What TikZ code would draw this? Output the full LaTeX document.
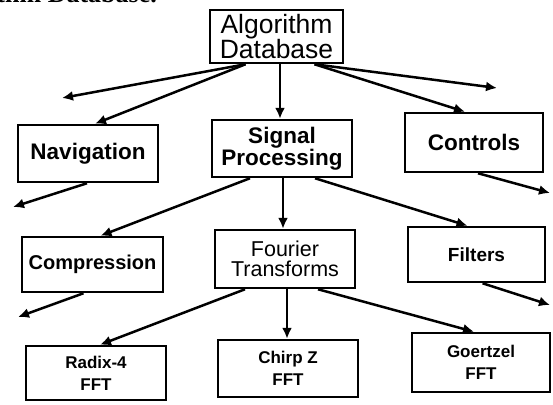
\documentclass[tikz,border=0pt]{standalone}
\usepackage{fontspec}
\setmainfont{Liberation Sans}
\newfontfamily\headserif{Liberation Serif}
\usetikzlibrary{arrows.meta}
\begin{document}
\begin{tikzpicture}[x=1pt,y=-1pt,
  box/.style={draw,line width=2.5pt,inner sep=0pt,align=center},
  conn/.style={line width=2.5pt,-{Latex[length=11pt,width=10pt]}},
  ftop/.style={font=\fontsize{26.5}{25}\selectfont},
  fmid/.style={font=\bfseries\fontsize{22.5}{22}\selectfont},
  freg/.style={font=\fontsize{21.5}{20}\selectfont},
  fsml/.style={font=\bfseries\fontsize{17}{22}\selectfont}]
\useasboundingbox (0,0) rectangle (553,404);

% partly cut header text
\begin{scope}
\clip (0,0) rectangle (553,6);
\node[anchor=base east,inner sep=0pt,font=\headserif\bfseries\fontsize{26}{26}\selectfont] (hdr) at (157,3) {rithm Database.};
\end{scope}

\node[box,ftop,minimum width=133pt,minimum height=53pt] (alg) at (276.5,36.5) {Algorithm\\Database};
\node[box,fmid,minimum width=140pt,minimum height=57pt] (nav) at (88,153.5) {Navigation};
\node[box,fmid,minimum width=140pt,minimum height=57pt] (sig) at (282,148.5) {Signal\\Processing};
\node[box,fmid,minimum width=138pt,minimum height=59pt] (ctl) at (474,142.5) {Controls};
\node[box,fmid,font=\bfseries\fontsize{20}{20}\selectfont,minimum width=141pt,minimum height=55pt] (cmp) at (92.5,264.5) {Compression};
\node[box,freg,minimum width=140pt,minimum height=58pt] (fou) at (285,259) {Fourier\\Transforms};
\node[box,fmid,font=\bfseries\fontsize{19}{20}\selectfont,minimum width=137pt,minimum height=55pt] (fil) at (476.5,254.5) {Filters};
\node[box,fsml,minimum width=140pt,minimum height=54pt] (rad) at (96,373) {Radix-4\\FFT};
\node[box,fsml,minimum width=140pt,minimum height=57pt] (chp) at (288,368.5) {Chirp Z\\FFT};
\node[box,fsml,minimum width=138pt,minimum height=59pt] (goe) at (481,362.5) {Goertzel\\FFT};

% free ends
\coordinate (e1) at (62,98);
\coordinate (e2) at (497,88);
\coordinate (e3) at (13,207);
\coordinate (e4) at (550,193);
\coordinate (e5) at (18,317);
\coordinate (e6) at (550,305);

\draw[conn] ([xshift=-31pt]alg.south) -- (e1);
\draw[conn] ([xshift=-31pt]alg.south) -- ([xshift=7pt]nav.north);
\draw[conn] ([xshift=3.5pt]alg.south) -- ([xshift=-2pt]sig.north);
\draw[conn] ([xshift=38pt]alg.south) -- ([xshift=-9pt]ctl.north);
\draw[conn] ([xshift=38pt]alg.south) -- (e2);

\draw[conn] ([xshift=-1pt]nav.south) -- (e3);
\draw[conn] ([xshift=4pt]ctl.south) -- (e4);

\draw[conn] ([xshift=-32pt]sig.south) -- ([xshift=8pt]cmp.north);
\draw[conn] ([xshift=1pt]sig.south) -- ([xshift=-2pt]fou.north);
\draw[conn] ([xshift=33pt]sig.south) -- ([xshift=-9pt]fil.north);

\draw[conn] ([xshift=-9pt]cmp.south) -- (e5);
\draw[conn] ([xshift=6pt]fil.south) -- (e6);

\draw[conn] ([xshift=-40pt]fou.south) -- ([xshift=4pt]rad.north);
\draw[conn] ([xshift=2pt]fou.south) -- ([xshift=-1pt]chp.north);
\draw[conn] ([xshift=33pt]fou.south) -- ([xshift=-7pt]goe.north);
\end{tikzpicture}
\end{document}
